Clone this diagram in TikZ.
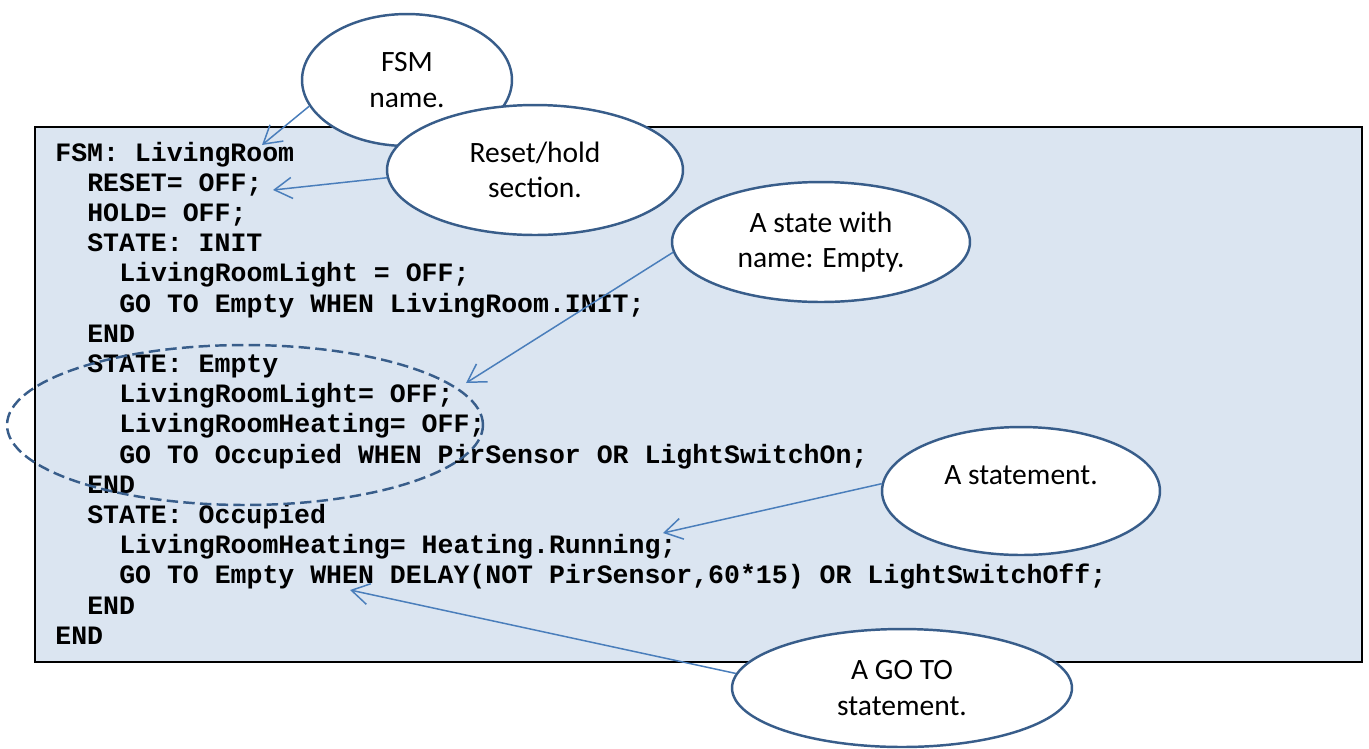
\documentclass[tikz,border=0pt]{standalone}
\usepackage{fontspec}
\setmainfont{Carlito}
\setmonofont{Liberation Mono}
\usetikzlibrary{shapes.geometric,arrows.meta,positioning,calc}

\definecolor{codebg}{HTML}{DBE5F1}
\definecolor{calloutline}{HTML}{385D8A}
\definecolor{pointerblue}{HTML}{4A7EBB}

\begin{document}
\begin{tikzpicture}[
    x=0.02cm, y=-0.02cm,
    % --- node styles ---
    codeline/.style = {anchor=base west, inner sep=0pt,
                       font=\ttfamily\bfseries\fontsize{15.1}{17}\selectfont},
    callout/.style  = {ellipse, draw=calloutline, line width=1.4pt,
                       fill=white, align=center, inner sep=0pt,
                       font=\fontsize{16.8}{20}\selectfont},
    ring/.style     = {ellipse, draw=calloutline, line width=1.4pt,
                       dash pattern=on 6.5pt off 3pt},
    pointer/.style  = {-{Straight Barb[length=10pt,width=12pt]},
                       draw=pointerblue, line width=0.85pt},
]
\useasboundingbox (0,0) rectangle (1369,748);

%============ LISTING ============
\draw[fill=codebg, line width=1.1pt] (35,127) rectangle (1362,662);

\foreach \ind/\txt [count=\n from 0] in {
  0/{FSM: LivingRoom},
  2/{RESET= OFF;},
  2/{HOLD= OFF;},
  2/{STATE: INIT},
  4/{LivingRoomLight = OFF;},
  4/{GO TO Empty WHEN LivingRoom.INIT;},
  2/{END},
  2/{STATE: Empty},
  4/{LivingRoomLight= OFF;},
  4/{LivingRoomHeating= OFF;},
  4/{GO TO Occupied WHEN PirSensor OR LightSwitchOn;},
  2/{END},
  2/{STATE: Occupied},
  4/{LivingRoomHeating= Heating.Running;},
  4/{GO TO Empty WHEN DELAY(NOT PirSensor,60*15) OR LightSwitchOff;},
  2/{END},
  0/{END}}
  \node[codeline] (line\n) at (55+\ind*15.98, 161+\n*30.2) {\txt};

%============ STATE MARKER ============
\node[ring, minimum width=9.52cm, minimum height=3.2cm] (emptyring) at (245,425) {};

%============ POINTER TIPS ============
\coordinate (tipfsm)   at (262,145);
\coordinate (tipreset) at (273,190);
\coordinate (tipstate) at (466,383);
\coordinate (tipstmt)  at (663,533);
\coordinate (tipgoto)  at (350,590);

%============ CALLOUTS ============
\node[callout, minimum width=4.2cm, minimum height=2.64cm] (fsmname) at (407,80)
  {FSM\\name.};
\node[callout, minimum width=5.92cm, minimum height=2.6cm] (resethold) at (535,170)
  {Reset/hold\\section.};
\node[callout, minimum width=5.96cm, minimum height=2.4cm] (statename) at (821,242)
  {A state with\\name: Empty.};
\node[callout, minimum width=5.56cm, minimum height=2.56cm, text depth=18pt] (stmt) at (1021,491)
  {A statement.};
\node[callout, minimum width=6.8cm, minimum height=2.36cm] (gotostmt) at (902,688)
  {A GO TO\\statement.};

%============ POINTERS ============
\draw[pointer] (fsmname.195)   -- (tipfsm);
\draw[pointer] (resethold.183) -- (tipreset);
\draw[pointer] (statename.184) -- (tipstate);
\draw[pointer] (stmt.177)      -- (tipstmt);
\draw[pointer] (gotostmt.175)  -- (tipgoto);

\end{tikzpicture}
\end{document}
